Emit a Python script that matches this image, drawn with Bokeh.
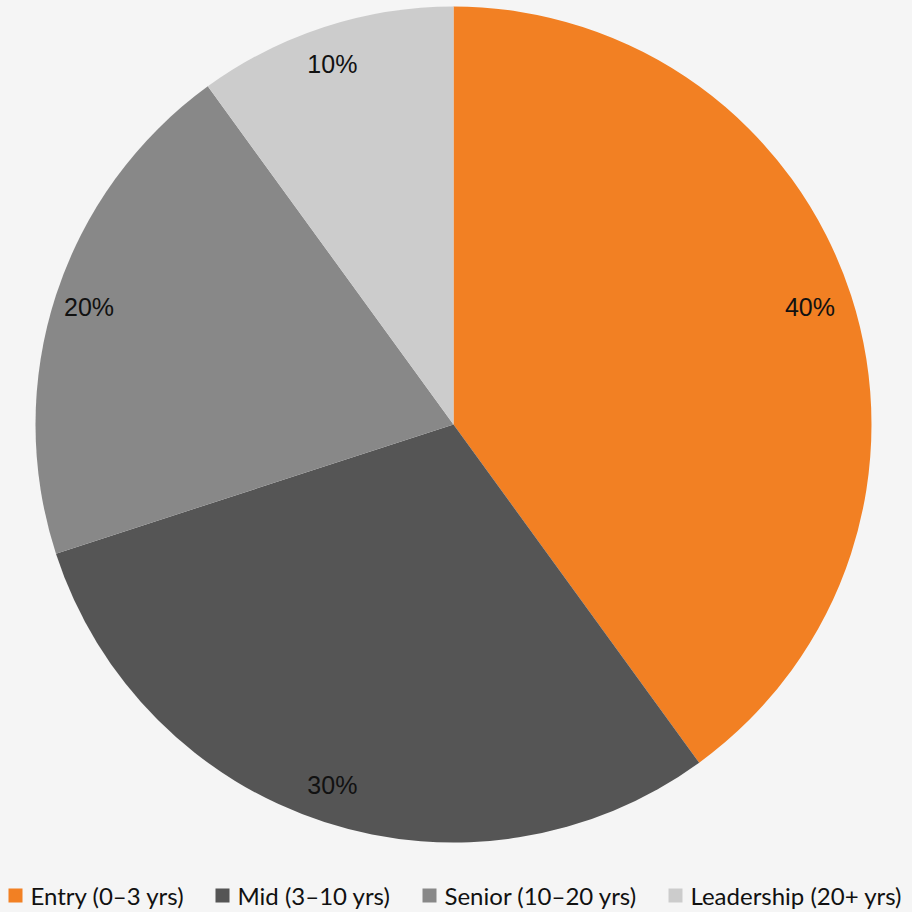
import math
from bokeh.plotting import figure
from bokeh.models import ColumnDataSource, Range1d
from bokeh.core.properties import value
from bokeh.embed import file_html
from bokeh.resources import INLINE

categories = ["Entry (0\u20133 yrs)", "Mid (3\u201310 yrs)", "Senior (10\u201320 yrs)", "Leadership (20+ yrs)"]
shares = [40, 30, 20, 10]
colors = ["#f28023", "#555555", "#888888", "#cccccc"]
labels = ["40%", "30%", "20%", "10%"]

W, H = 912, 912
cx, cy, R = 453, 488, 418
label_r = 379

total = sum(shares)
starts, ends, lx, ly = [], [], [], []
acc = 0.0
for s in shares:
    a0 = math.pi / 2 - 2 * math.pi * acc / total
    a1 = math.pi / 2 - 2 * math.pi * (acc + s) / total
    starts.append(a1)
    ends.append(a0)
    mid = (a0 + a1) / 2
    lx.append(cx + label_r * math.cos(mid) - 4)
    ly.append(cy + label_r * math.sin(mid))
    acc += s

src = ColumnDataSource(dict(start=starts, end=ends, color=colors, lx=lx, ly=ly, label=labels))

p = figure(width=W, height=H, output_backend="svg", toolbar_location=None,
           x_range=Range1d(0, W), y_range=Range1d(0, H), min_border=0)
p.axis.visible = False
p.grid.visible = False
p.outline_line_color = None
p.background_fill_color = "#f5f5f5"
p.border_fill_color = "#f5f5f5"

p.wedge(x=cx, y=cy, radius=R, start_angle="start", end_angle="end",
        fill_color="color", line_color=None, source=src)
p.text(x="lx", y="ly", text="label", source=src, text_align="center",
       text_baseline="middle", text_font=value("Liberation Sans"),
       text_font_size="25px", text_color="#111111")

# legend
leg_x = [8, 215, 422, 668]
leg_y = 17
sq = 14
p.rect(x=[x + sq / 2 for x in leg_x], y=[leg_y] * 4, width=sq, height=sq,
       fill_color=colors, line_color=None)
p.text(x=[x + 22 for x in leg_x], y=[leg_y] * 4, text=categories,
       text_align="left", text_baseline="middle", text_font=value("Lato"),
       text_font_size="24px", text_color="#111111")

html = file_html(p, INLINE)
html = html.replace("<head>", "<head><style>html,body{background:#f5f5f5;}</style>", 1)
open("out.html", "w").write(html)
